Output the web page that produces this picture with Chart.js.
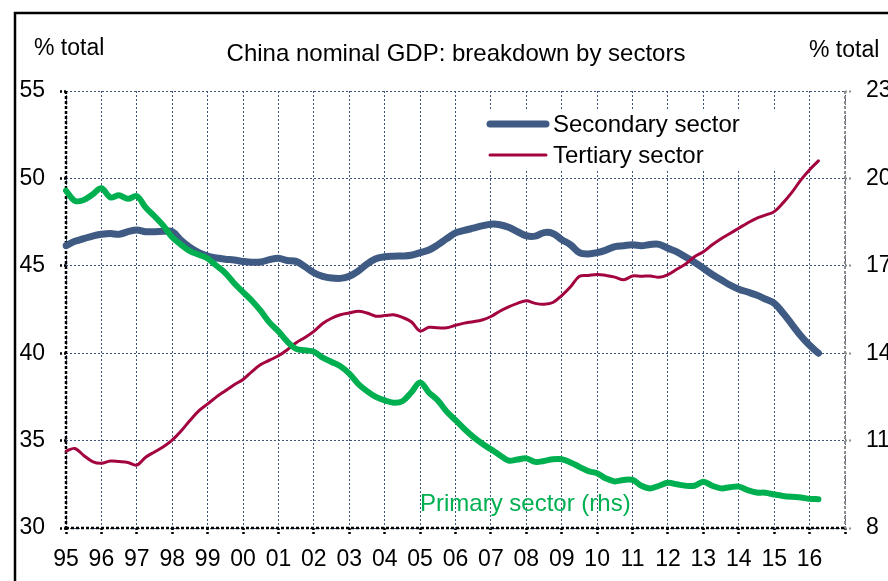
<!DOCTYPE html>
<html><head><meta charset="utf-8">
<script src="https://cdn.jsdelivr.net/npm/chart.js@4"></script>
<style>html,body{margin:0;padding:0;background:#fff;overflow:hidden}</style>
</head><body>
<canvas id="c" width="888" height="581"></canvas>
<script>
// Quarterly categories 1995Q1 .. 2017Q1
const categories = [
 '1995Q1','1995Q2','1995Q3','1995Q4','1996Q1','1996Q2','1996Q3','1996Q4',
 '1997Q1','1997Q2','1997Q3','1997Q4','1998Q1','1998Q2','1998Q3','1998Q4',
 '1999Q1','1999Q2','1999Q3','1999Q4','2000Q1','2000Q2','2000Q3','2000Q4',
 '2001Q1','2001Q2','2001Q3','2001Q4','2002Q1','2002Q2','2002Q3','2002Q4',
 '2003Q1','2003Q2','2003Q3','2003Q4','2004Q1','2004Q2','2004Q3','2004Q4',
 '2005Q1','2005Q2','2005Q3','2005Q4','2006Q1','2006Q2','2006Q3','2006Q4',
 '2007Q1','2007Q2','2007Q3','2007Q4','2008Q1','2008Q2','2008Q3','2008Q4',
 '2009Q1','2009Q2','2009Q3','2009Q4','2010Q1','2010Q2','2010Q3','2010Q4',
 '2011Q1','2011Q2','2011Q3','2011Q4','2012Q1','2012Q2','2012Q3','2012Q4',
 '2013Q1','2013Q2','2013Q3','2013Q4','2014Q1','2014Q2','2014Q3','2014Q4',
 '2015Q1','2015Q2','2015Q3','2015Q4','2016Q1','2016Q2','2016Q3','2016Q4',
 '2017Q1'
];
const xTickLabels = ['95','96','97','98','99','00','01','02','03','04','05','06','07','08','09','10','11','12','13','14','15','16'];

// Secondary sector, % of total (lhs)
const secondary = [
 46.15,46.4,46.55,46.7, 46.8,46.85,46.8,46.95, 47.05,46.95,46.95,46.97, 46.95,46.45,46.05,45.75,
 45.55,45.45,45.38,45.33, 45.25,45.2,45.22,45.35, 45.43,45.3,45.25,44.95, 44.6,44.4,44.3,44.28,
 44.4,44.7,45.1,45.4, 45.52,45.55,45.56,45.6, 45.75,45.9,46.2,46.55, 46.88,47.02,47.15,47.28,
 47.38,47.35,47.2,46.95, 46.72,46.7,46.9,46.85, 46.5,46.2,45.75,45.68, 45.75,45.9,46.1,46.15,
 46.2,46.15,46.22,46.23, 46.0,45.8,45.5,45.2, 44.86,44.5,44.2,43.9, 43.66,43.5,43.33,43.1,
 42.86,42.3,41.65,41.0, 40.45,40.0
];
// Tertiary sector, % of total (lhs)
const tertiary = [
 34.4,34.55,34.15,33.8, 33.7,33.83,33.8,33.75, 33.6,34.05,34.35,34.65, 35.03,35.55,36.15,36.7,
 37.1,37.5,37.85,38.2, 38.5,38.95,39.35,39.6, 39.85,40.2,40.6,40.9, 41.25,41.7,42.0,42.2,
 42.3,42.4,42.3,42.12, 42.15,42.2,42.05,41.8, 41.27,41.48,41.45,41.45, 41.6,41.72,41.8,41.9,
 42.1,42.4,42.65,42.85, 43.0,42.85,42.8,42.9, 43.3,43.8,44.4,44.45, 44.5,44.45,44.35,44.2,
 44.42,44.4,44.42,44.34, 44.5,44.8,45.1,45.52, 45.8,46.2,46.55,46.85, 47.15,47.45,47.72,47.9,
 48.1,48.6,49.2,49.9, 50.5,51.0
];
// Primary sector, % of total (rhs)
const primary = [
 19.58,19.23,19.26,19.45, 19.66,19.35,19.42,19.3, 19.39,19.0,18.7,18.38, 17.98,17.72,17.5,17.38,
 17.25,17.0,16.75,16.4, 16.1,15.8,15.45,15.05, 14.75,14.4,14.15,14.1, 14.05,13.85,13.7,13.55,
 13.3,12.95,12.7,12.5, 12.38,12.3,12.35,12.65, 12.99,12.65,12.38,12.0, 11.7,11.4,11.13,10.9,
 10.7,10.5,10.31,10.35, 10.39,10.27,10.3,10.36, 10.36,10.25,10.1,9.95, 9.88,9.7,9.6,9.65,
 9.65,9.45,9.36,9.45, 9.55,9.5,9.45,9.45, 9.59,9.45,9.36,9.4, 9.42,9.3,9.22,9.21,
 9.15,9.1,9.07,9.05, 9.0,8.99
];

const FONT = "'Liberation Sans', Arial, sans-serif";
const GRID = '#3b5378';
const C_SEC = '#3f5b83';
const C_TER = '#a3043f';
const C_PRI = '#00b050';

const decor = {
  id: 'decor',
  beforeDatasetsDraw(chart) {
    const {ctx, chartArea: a} = chart;
    ctx.save();
    // axis lines
    ctx.setLineDash([3, 2]);
    ctx.strokeStyle = '#000';
    ctx.lineWidth = 2.5;
    ctx.beginPath();
    ctx.moveTo(a.left, a.top); ctx.lineTo(a.left, a.bottom);
    ctx.moveTo(a.left, a.bottom); ctx.lineTo(a.right, a.bottom);
    ctx.stroke();
    ctx.strokeStyle = '#8c8c8c';
    ctx.lineWidth = 2;
    ctx.beginPath();
    ctx.moveTo(a.right, a.top); ctx.lineTo(a.right, a.bottom);
    ctx.stroke();
    ctx.setLineDash([]);
    // legend
    ctx.fillStyle = '#fff';
    ctx.fillRect(478, 109, 317, 62);
    const ds = chart.data.datasets;
    ctx.lineCap = 'round';
    ctx.strokeStyle = ds[0].borderColor; ctx.lineWidth = 7;
    ctx.beginPath(); ctx.moveTo(490, 124); ctx.lineTo(546, 124); ctx.stroke();
    ctx.strokeStyle = ds[1].borderColor; ctx.lineWidth = 3;
    ctx.beginPath(); ctx.moveTo(490, 155); ctx.lineTo(546, 155); ctx.stroke();
    ctx.fillStyle = '#000';
    ctx.font = '24px ' + FONT;
    ctx.textBaseline = 'alphabetic';
    ctx.fillText(ds[0].label, 553, 132);
    ctx.fillText(ds[1].label, 553, 163);
    ctx.restore();
  },
  afterDraw(chart) {
    const {ctx} = chart;
    ctx.save();
    ctx.textBaseline = 'alphabetic';
    ctx.fillStyle = '#000';
    ctx.font = '23px ' + FONT;
    ctx.fillText('% total', 34, 55);
    ctx.fillText('% total', 809, 57);
    ctx.font = '24px ' + FONT;
    ctx.textAlign = 'center';
    ctx.fillText('China nominal GDP: breakdown by sectors', 456, 61);
    ctx.textAlign = 'left';
    ctx.fillStyle = C_PRI;
    ctx.font = '24px ' + FONT;
    ctx.fillText('Primary sector (rhs)', 420, 511);
    // outer frame
    ctx.strokeStyle = '#000';
    ctx.lineWidth = 2.5;
    ctx.beginPath();
    ctx.moveTo(888, 13); ctx.lineTo(15, 13); ctx.lineTo(15, 581);
    ctx.stroke();
    ctx.restore();
  }
};

new Chart(document.getElementById('c'), {
  type: 'line',
  data: {
    labels: categories,
    datasets: [
      {label: 'Secondary sector', data: secondary, yAxisID: 'y', borderColor: C_SEC, borderWidth: 7, order: 2},
      {label: 'Tertiary sector', data: tertiary, yAxisID: 'y', borderColor: C_TER, borderWidth: 3, order: 1},
      {label: 'Primary sector (rhs)', data: primary, yAxisID: 'y2', borderColor: C_PRI, borderWidth: 6, order: 0}
    ]
  },
  options: {
    responsive: false,
    animation: false,
    devicePixelRatio: 1,
    layout: {padding: {top: 91, left: 0, right: 0, bottom: 0}},
    elements: {
      point: {radius: 0, hoverRadius: 0},
      line: {tension: 0.35, borderCapStyle: 'round', borderJoinStyle: 'round', fill: false}
    },
    plugins: {legend: {display: false}, tooltip: {enabled: false}, title: {display: false}},
    scales: {
      x: {
        type: 'category',
        offset: false,
        border: {display: false, dash: [2, 2]},
        grid: {
          color: c => (c.index % 4 === 0 ? GRID : 'rgba(0,0,0,0)'),
          lineWidth: 1,
          tickColor: c => (c.index % 4 === 0 ? '#000' : 'rgba(0,0,0,0)'),
          tickLength: 8,
          tickWidth: 2.5,
          tickBorderDash: [2, 2]
        },
        ticks: {
          autoSkip: false, maxRotation: 0, minRotation: 0, padding: 10,
          color: '#000', font: {family: FONT, size: 23},
          callback: (v, i) => (i % 4 === 0 && xTickLabels[i / 4] !== undefined ? xTickLabels[i / 4] : '')
        },
        afterFit: s => { s.height = 53; }
      },
      y: {
        position: 'left',
        min: 30, max: 55,
        border: {display: false, dash: [2, 2]},
        grid: {color: GRID, lineWidth: 1, tickColor: '#000', tickLength: 6, tickWidth: 2.5, tickBorderDash: [2, 2]},
        ticks: {stepSize: 5, padding: 15, color: '#000', font: {family: FONT, size: 23}},
        afterFit: s => { s.width = 66; }
      },
      y2: {
        position: 'right',
        min: 8, max: 23,
        border: {display: false},
        grid: {drawOnChartArea: false, tickColor: '#8c8c8c', tickLength: 6, tickWidth: 2, tickBorderDash: [2, 2]},
        ticks: {stepSize: 3, padding: 15, color: '#000', font: {family: FONT, size: 23}},
        afterFit: s => { s.width = 43; }
      }
    }
  },
  plugins: [decor]
});
</script>
</body></html>
